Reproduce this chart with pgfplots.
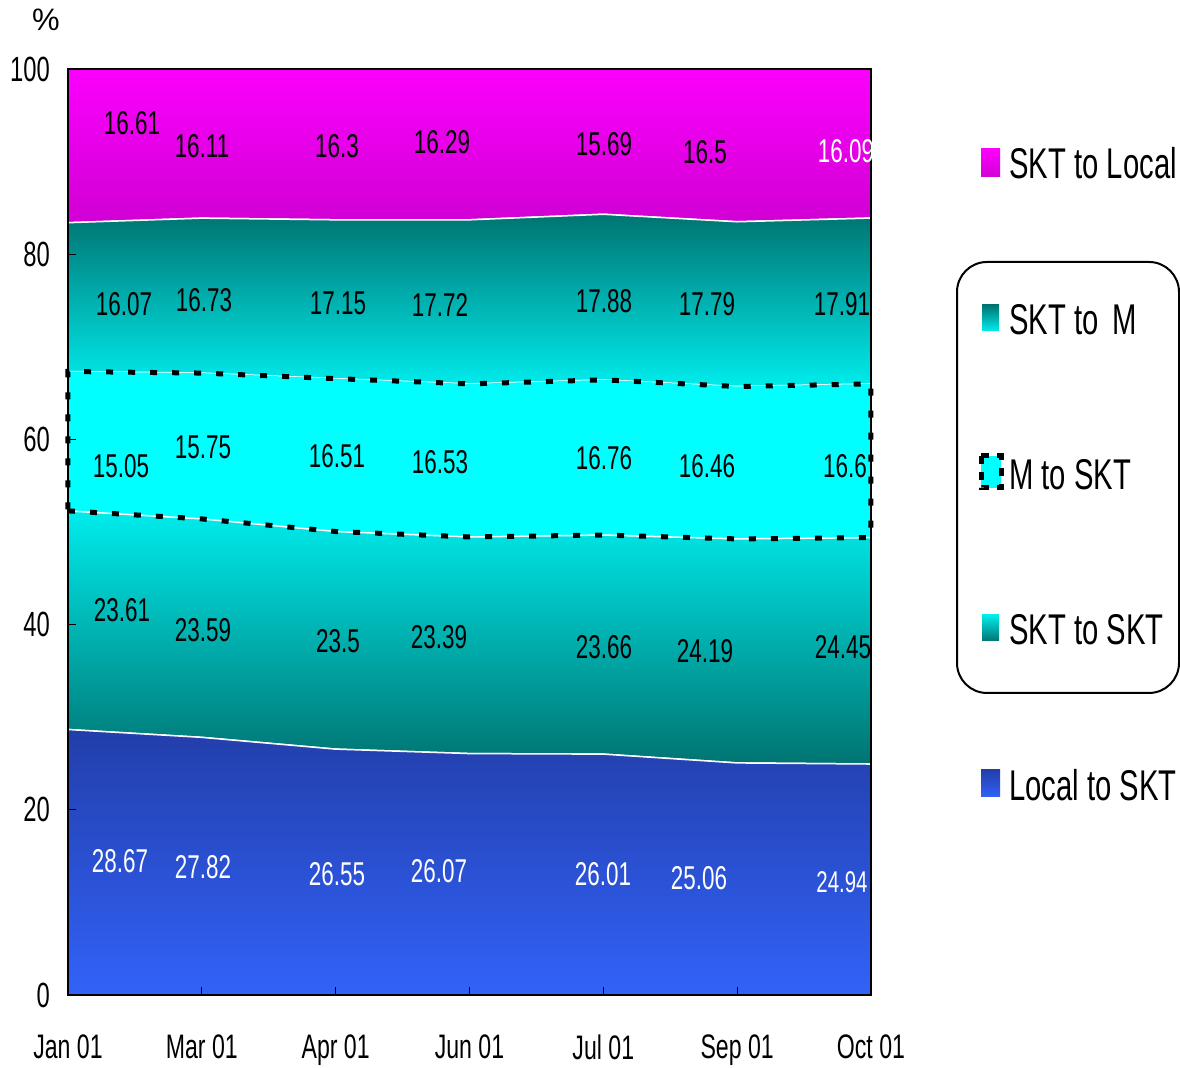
\documentclass[border=0pt]{standalone}
\usepackage{fontspec}
\setmainfont{Liberation Sans}[FakeStretch=0.68]
\newfontfamily\plainfont{Liberation Sans}
\usepackage{pgfplots}
\pgfplotsset{compat=1.18}
\usetikzlibrary{shadings}

\definecolor{magtop}{RGB}{252,0,252}
\definecolor{magbot}{RGB}{208,0,212}
\definecolor{tealdark}{RGB}{0,116,114}
\definecolor{cyanlt}{RGB}{0,236,236}
\definecolor{cyanfull}{RGB}{0,255,255}
\definecolor{bluetop}{RGB}{34,62,170}
\definecolor{bluebot}{RGB}{50,98,248}
\newcommand\fs[1]{\fontsize{#1}{#1}\selectfont}
\tikzset{lbl/.style={font=\fs{16.5}, inner sep=0pt}}

\begin{document}
\begin{tikzpicture}
\begin{axis}[
  at={(0,0)}, anchor=south west,
  scale only axis, width=401.5pt, height=463pt,
  xmin=0, xmax=6, ymin=0, ymax=100,
  stack plots=y,
  axis on top,
  xtick={0,...,6},
  xticklabels={Jan 01,Mar 01,Apr 01,Jun 01,Jul 01,Sep 01,Oct 01},
  ytick={0,20,...,100},
  xtick pos=bottom, ytick pos=left,
  tick align=inside,
  major tick length=4pt,
  tick style={black, line width=0.6pt},
  axis line style={black, line width=0.8pt},
  xticklabel style={font=\fs{17}, yshift=-16.5pt},
  yticklabel style={font=\fs{17.5}, xshift=-5.5pt},
  /pgf/number format/assume math mode=true,
]
% Local to SKT
\addplot[draw=white, line width=0.75pt, shade, top color=bluetop, bottom color=bluebot]
  coordinates {(0,28.67) (1,27.82) (2,26.55) (3,26.07) (4,26.01) (5,25.06) (6,24.94)} \closedcycle;
% SKT to SKT
\addplot[draw=white, line width=0.75pt, shade, top color=cyanlt, bottom color=tealdark]
  coordinates {(0,23.61) (1,23.59) (2,23.5) (3,23.39) (4,23.66) (5,24.19) (6,24.45)} \closedcycle;
% M to SKT
\addplot[draw=none, fill=cyanfull]
  coordinates {(0,15.05) (1,15.75) (2,16.51) (3,16.53) (4,16.76) (5,16.46) (6,16.6)} \closedcycle;
% SKT to M
\addplot[draw=white, line width=0.75pt, shade, top color=tealdark, bottom color=cyanlt]
  coordinates {(0,16.07) (1,16.73) (2,17.15) (3,17.72) (4,17.88) (5,17.79) (6,17.91)} \closedcycle;
% SKT to Local
\addplot[draw=white, line width=0.75pt, shade, top color=magtop, bottom color=magbot]
  coordinates {(0,16.61) (1,16.11) (2,16.3) (3,16.29) (4,15.69) (5,16.5) (6,16.09)} \closedcycle;
\end{axis}

% overlay axis: dashed outline of the "M to SKT" band (cumulative bounds)
\begin{axis}[
  at={(0,0)}, anchor=south west,
  scale only axis, width=401.5pt, height=463pt,
  xmin=0, xmax=6, ymin=0, ymax=100,
  hide axis, clip=false,
]
\addplot[draw=black, line width=2.5pt, dash pattern=on 3.5pt off 7.5pt, fill=none]
  coordinates {(0,52.28) (1,51.41) (2,50.05) (3,49.46) (4,49.67) (5,49.25) (6,49.39)
               (6,65.99) (5,65.71) (4,66.43) (3,65.99) (2,66.56) (1,67.16) (0,67.33)} -- cycle;
\end{axis}

\pgfresetboundingbox
\begin{scope}[shift={(current axis.south west)}, shift={(-34pt,497.5pt)}, x=0.5pt, y=-0.5pt]
  \path[use as bounding box] (0,0) rectangle (1180,1068);
  \node[font=\plainfont\fs{15.5}] at (46,20) {\%};
  % value labels (text annotations)
  \node[lbl] at (132,123) {16.61};
  \node[lbl] at (202,146) {16.11};
  \node[lbl] at (337,146) {16.3};
  \node[lbl] at (442,142) {16.29};
  \node[lbl] at (604,144) {15.69};
  \node[lbl] at (705,152) {16.5};
  \begin{scope}
    \clip (68,69) rectangle (871,995);
    \node[lbl, white] at (846,151) {16.09};
  \end{scope}
  \node[lbl] at (124,304) {16.07};
  \node[lbl] at (204,300) {16.73};
  \node[lbl] at (338,303) {17.15};
  \node[lbl] at (440,305) {17.72};
  \node[lbl] at (604,301) {17.88};
  \node[lbl] at (707,304) {17.79};
  \node[lbl] at (842,304) {17.91};
  \node[lbl] at (121,466) {15.05};
  \node[lbl] at (203,447) {15.75};
  \node[lbl] at (337,456) {16.51};
  \node[lbl] at (440,462) {16.53};
  \node[lbl] at (604,458) {16.76};
  \node[lbl] at (707,466) {16.46};
  \node[lbl] at (845,466) {16.6};
  \node[lbl] at (122,610) {23.61};
  \node[lbl] at (203,630) {23.59};
  \node[lbl] at (338,641) {23.5};
  \node[lbl] at (439,637) {23.39};
  \node[lbl] at (604,647) {23.66};
  \node[lbl] at (705,651) {24.19};
  \node[lbl] at (843,647) {24.45};
  \node[lbl, white] at (120,861) {28.67};
  \node[lbl, white] at (203,867) {27.82};
  \node[lbl, white] at (337,874) {26.55};
  \node[lbl, white] at (439,871) {26.07};
  \node[lbl, white] at (603,874) {26.01};
  \node[lbl, white] at (699,878) {25.06};
  \node[lbl, white, font=\fs{15}] at (842,882) {24.94};
  % legend
  \draw[line width=1pt, rounded corners=15pt] (957,262) rectangle (1179,693);
  \shade[top color=magtop, bottom color=magbot] (981,149) rectangle (1000,177);
  \node[font=\fs{21.5}, anchor=west, inner sep=0pt] at (1009,163) {SKT to Local};
  \shade[top color=tealdark, bottom color=cyanlt] (982,305) rectangle (999,331);
  \node[font=\fs{21.5}, anchor=west, inner sep=0pt] at (1009,320) {SKT to\hspace{7pt}M};
  \filldraw[fill=cyanfull, draw=black, line width=2.5pt, dash pattern=on 4pt off 4pt] (981,456) rectangle (1001,488);
  \node[font=\fs{21.5}, anchor=west, inner sep=0pt] at (1009,475) {M to SKT};
  \shade[top color=cyanlt, bottom color=tealdark] (982,615) rectangle (999,641);
  \node[font=\fs{21.5}, anchor=west, inner sep=0pt] at (1009,630) {SKT to SKT};
  \shade[top color=bluetop, bottom color=bluebot] (981,770) rectangle (1000,797);
  \node[font=\fs{21.5}, anchor=west, inner sep=0pt] at (1009,785) {Local to SKT};
\end{scope}
\end{tikzpicture}
\end{document}
